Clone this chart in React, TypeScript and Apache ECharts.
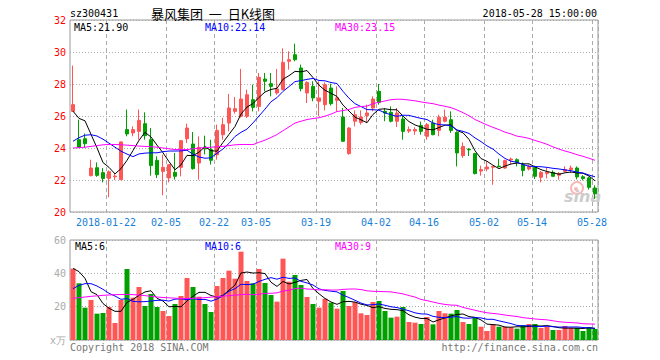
import React, { useEffect, useRef } from 'react';
import * as echarts from 'echarts';

const dates = [
  '2018-01-12', '2018-01-15', '2018-01-16', '2018-01-17', '2018-01-18', '2018-01-19', '2018-01-22', '2018-01-23', '2018-01-24', '2018-01-25',
  '2018-01-26', '2018-01-29', '2018-01-30', '2018-01-31', '2018-02-01', '2018-02-02', '2018-02-05', '2018-02-06', '2018-02-07', '2018-02-08',
  '2018-02-09', '2018-02-12', '2018-02-13', '2018-02-14', '2018-02-22', '2018-02-23', '2018-02-26', '2018-02-27', '2018-02-28', '2018-03-01',
  '2018-03-02', '2018-03-05', '2018-03-06', '2018-03-07', '2018-03-08', '2018-03-09', '2018-03-12', '2018-03-13', '2018-03-14', '2018-03-15',
  '2018-03-16', '2018-03-19', '2018-03-20', '2018-03-21', '2018-03-22', '2018-03-23', '2018-03-26', '2018-03-27', '2018-03-28', '2018-03-29',
  '2018-03-30', '2018-04-02', '2018-04-03', '2018-04-04', '2018-04-09', '2018-04-10', '2018-04-11', '2018-04-12', '2018-04-13', '2018-04-16',
  '2018-04-17', '2018-04-18', '2018-04-19', '2018-04-20', '2018-04-23', '2018-04-24', '2018-04-25', '2018-04-26', '2018-04-27', '2018-05-02',
  '2018-05-03', '2018-05-04', '2018-05-07', '2018-05-08', '2018-05-09', '2018-05-10', '2018-05-11', '2018-05-14', '2018-05-15', '2018-05-16',
  '2018-05-17', '2018-05-18', '2018-05-21', '2018-05-22', '2018-05-23', '2018-05-24', '2018-05-25', '2018-05-28',
];

const labelDates = ['2018-01-22', '2018-02-05', '2018-02-22', '2018-03-05', '2018-03-19', '2018-04-02', '2018-04-16', '2018-05-02', '2018-05-14', '2018-05-28'];

const opens = [
  26.29, 24.52, 24.58, 22.27, 22.77, 22.46, 22.10, 22.20, 22.02, 25.15,
  24.94, 25.04, 25.52, 24.52, 23.23, 22.54, 22.13, 22.48, 22.79, 24.58,
  24.25, 23.06, 24.06, 23.90, 23.58, 24.83, 25.56, 26.29, 25.98, 25.98,
  27.02, 26.60, 28.31, 28.02, 27.44, 27.65, 29.42, 29.83, 29.00, 27.44,
  27.85, 26.92, 26.71, 27.75, 26.98, 25.94, 23.65, 25.67, 25.60, 26.02,
  26.50, 27.54, 26.29, 26.23, 25.67, 25.81, 25.06, 25.06, 25.40, 24.73,
  25.56, 25.10, 25.67, 25.77, 24.98, 23.52, 23.92, 23.65, 22.56, 22.69,
  22.80, 22.87, 22.75, 23.25, 23.27, 22.96, 22.69, 22.79, 22.17, 22.40,
  22.48, 22.30, 22.54, 22.65, 22.75, 22.20, 22.13, 21.50,
];
const closes = [
  26.71, 24.04, 24.27, 22.75, 22.29, 22.10, 22.52, 22.25, 24.38, 24.88,
  25.15, 25.73, 24.77, 22.90, 22.33, 22.79, 22.96, 22.23, 24.46, 25.25,
  22.71, 24.04, 23.94, 23.23, 25.10, 25.46, 26.50, 26.46, 27.06, 27.33,
  26.54, 28.42, 28.17, 27.85, 27.69, 29.35, 29.52, 29.52, 27.71, 28.10,
  27.13, 27.13, 27.96, 26.77, 27.13, 24.42, 25.25, 26.08, 25.94, 26.19,
  27.06, 26.85, 26.19, 25.67, 26.19, 25.04, 25.15, 25.15, 25.04, 25.46,
  24.83, 25.92, 25.92, 25.10, 23.69, 24.10, 23.88, 22.40, 22.65, 22.81,
  22.85, 22.83, 23.21, 23.31, 23.10, 22.60, 22.85, 22.23, 22.48, 22.48,
  22.23, 22.40, 22.65, 22.75, 22.19, 22.10, 21.54, 21.15,
];
const lows = [
  26.25, 24.00, 24.00, 22.23, 22.20, 21.85, 20.92, 22.00, 22.00, 24.73,
  24.73, 24.52, 24.52, 22.27, 22.12, 21.04, 21.85, 22.02, 22.23, 24.31,
  22.65, 22.02, 23.60, 22.96, 23.27, 24.52, 25.04, 26.15, 25.90, 25.88,
  26.29, 26.29, 27.54, 27.23, 27.33, 27.60, 28.90, 29.42, 27.54, 26.81,
  26.92, 25.98, 26.35, 26.65, 26.29, 24.40, 23.58, 25.35, 25.46, 25.56,
  26.29, 26.71, 25.67, 25.60, 25.31, 24.52, 24.94, 24.83, 24.83, 24.52,
  24.80, 24.73, 25.60, 24.94, 22.85, 23.38, 23.50, 22.35, 22.27, 22.54,
  21.70, 22.80, 22.70, 22.98, 22.85, 22.23, 22.60, 22.06, 21.85, 22.10,
  22.20, 22.02, 22.48, 22.44, 22.04, 21.98, 21.40, 20.81,
];
const highs = [
  29.15, 25.77, 24.90, 23.27, 23.10, 22.75, 22.60, 22.45, 24.40, 26.40,
  25.35, 26.40, 26.23, 25.25, 23.48, 23.58, 22.96, 23.69, 24.46, 25.52,
  25.00, 24.73, 24.77, 24.52, 25.46, 25.88, 27.38, 27.19, 28.94, 27.65,
  27.96, 28.69, 28.69, 28.69, 28.94, 30.23, 30.04, 30.52, 29.21, 28.17,
  28.17, 28.17, 28.10, 28.02, 27.85, 26.50, 25.30, 26.35, 26.35, 26.71,
  27.23, 28.00, 26.50, 26.60, 26.50, 26.00, 25.35, 25.30, 25.65, 25.56,
  25.77, 26.08, 26.40, 26.29, 25.04, 24.35, 24.00, 23.70, 22.90, 23.17,
  22.87, 23.33, 23.27, 23.40, 23.35, 23.10, 22.96, 22.90, 22.56, 22.75,
  22.60, 22.50, 22.85, 22.90, 22.85, 22.30, 22.20, 21.67,
];

const ma5 = [
  26.3, 25.85, 25.7, 24.85, 24.01, 23.09, 22.79, 22.38, 22.71, 23.23,
  23.84, 24.48, 24.98, 24.69, 24.18, 23.70, 23.15, 22.64, 22.95, 23.54,
  23.52, 23.74, 24.08, 23.83, 23.80, 24.35, 24.85, 25.35, 26.12, 26.56,
  26.78, 27.16, 27.50, 27.66, 27.73, 28.30, 28.52, 28.79, 28.76, 28.84,
  28.40, 27.92, 27.61, 27.42, 27.22, 26.68, 26.31, 25.93, 25.76, 25.58,
  26.10, 26.42, 26.45, 26.39, 26.39, 25.99, 25.65, 25.44, 25.31, 25.17,
  25.13, 25.28, 25.43, 25.45, 25.09, 24.95, 24.54, 23.83, 23.34, 23.17,
  22.92, 22.71, 22.87, 23.00, 23.06, 23.01, 23.01, 22.82, 22.65, 22.53,
  22.45, 22.36, 22.45, 22.50, 22.44, 22.42, 22.25, 21.95,
];
const ma10 = [
  24.42, 24.65, 24.8, 24.83, 24.75, 24.55, 24.3, 24.05, 23.8, 23.62,
  23.46, 23.63, 23.68, 23.70, 23.70, 23.77, 23.81, 23.81, 23.82, 23.86,
  23.61, 23.44, 23.36, 23.39, 23.67, 23.94, 24.29, 24.72, 24.98, 25.18,
  25.57, 26.00, 26.43, 26.89, 27.15, 27.54, 27.84, 28.15, 28.21, 28.29,
  28.35, 28.22, 28.20, 28.09, 28.03, 27.54, 27.11, 26.77, 26.59, 26.40,
  26.39, 26.37, 26.19, 26.08, 25.98, 26.05, 26.04, 25.94, 25.85, 25.78,
  25.56, 25.46, 25.44, 25.38, 25.13, 25.04, 24.91, 24.63, 24.40, 24.13,
  23.93, 23.62, 23.35, 23.17, 23.11, 22.96, 22.86, 22.84, 22.83, 22.79,
  22.73, 22.69, 22.63, 22.58, 22.49, 22.44, 22.31, 22.20,
];
const ma30 = [
  24.0, 24.02, 24.05, 24.1, 24.15, 24.2, 24.22, 24.22, 24.2, 24.18,
  24.15, 24.12, 24.1, 24.08, 24.05, 24.0, 23.95, 23.9, 23.9, 23.9,
  23.95, 24.0, 24.02, 24.05, 24.08, 24.1, 24.15, 24.2, 24.22, 24.22,
  24.21, 24.36, 24.49, 24.66, 24.84, 25.08, 25.32, 25.56, 25.67, 25.78,
  25.84, 25.89, 25.99, 26.12, 26.28, 26.34, 26.41, 26.54, 26.59, 26.62,
  26.77, 26.86, 26.94, 27.02, 27.05, 27.04, 27.00, 26.95, 26.88, 26.82,
  26.77, 26.68, 26.61, 26.52, 26.38, 26.21, 26.02, 25.78, 25.61, 25.44,
  25.29, 25.15, 24.99, 24.88, 24.74, 24.68, 24.60, 24.47, 24.36, 24.23,
  24.07, 23.93, 23.81, 23.71, 23.58, 23.48, 23.36, 23.23,
];

const volumes = [
  42.8, 34, 19.4, 24, 15.8, 16.2, 19.8, 10.2, 24, 42.6,
  25.4, 31.8, 20.4, 27.6, 19.8, 17.4, 14.4, 21.6, 26.4, 37.2,
  31.8, 26, 21.6, 16.8, 32.4, 37.2, 41.6, 36.8, 53, 35.4,
  34, 42.6, 34.2, 27, 23, 48.8, 35, 39, 33, 25.8,
  21.6, 19.4, 24.8, 22.4, 18.8, 29.4, 20.4, 22.8, 16, 15,
  22.8, 23.4, 17.4, 13.4, 14, 19.8, 10.8, 10.4, 9.6, 13.8,
  9.4, 17.4, 16, 15.8, 18, 10.8, 9.6, 13.8, 8, 5.4,
  9.4, 8, 8, 7.6, 6.8, 8.8, 9.6, 9.6, 7.2, 8,
  6, 6, 8.4, 7.4, 7.4, 5.4, 7.8, 6.6,
];
const volMa5 = [
  43, 41, 37, 29, 27.2, 21.88, 19.04, 17.2, 17.2, 22.56,
  24.4, 26.8, 28.84, 29.56, 25.0, 23.4, 19.92, 20.16, 19.92, 23.4,
  26.28, 28.6, 28.6, 26.68, 25.72, 26.8, 29.92, 32.96, 40.2, 40.8,
  40.16, 40.36, 39.84, 34.64, 32.16, 35.12, 33.6, 34.56, 35.76, 36.32,
  30.88, 27.76, 24.92, 22.8, 21.4, 22.96, 23.16, 22.76, 21.48, 20.72,
  19.4, 20.0, 18.92, 18.4, 18.2, 17.6, 15.08, 13.68, 12.92, 12.88,
  10.8, 12.12, 13.24, 14.48, 15.32, 15.6, 14.04, 13.6, 12.04, 9.52,
  9.24, 8.92, 7.76, 7.68, 7.96, 7.84, 8.16, 8.48, 8.4, 8.64,
  8.08, 7.36, 7.12, 7.16, 7.04, 6.92, 7.28, 6.92,
];
const volMa10 = [
  30.8, 32.8, 33.8, 33.8, 32.4, 30.4, 28, 26.4, 24.4, 24.88,
  23.14, 22.92, 23.02, 23.38, 23.78, 23.9, 23.36, 24.5, 24.74, 24.2,
  24.84, 24.26, 24.38, 23.3, 24.56, 26.54, 29.26, 30.78, 33.44, 33.26,
  33.48, 35.14, 36.4, 37.42, 36.48, 37.64, 36.98, 37.2, 35.2, 34.24,
  33.0, 30.68, 29.74, 29.28, 28.86, 26.92, 25.46, 23.84, 22.14, 21.06,
  21.18, 21.58, 20.84, 19.94, 19.46, 18.5, 17.54, 16.3, 15.66, 15.54,
  14.2, 13.6, 13.46, 13.7, 14.1, 13.2, 13.08, 13.42, 13.26, 12.42,
  12.42, 11.48, 10.68, 9.86, 8.74, 8.54, 8.54, 8.12, 8.04, 8.3,
  7.96, 7.76, 7.8, 7.78, 7.84, 7.5, 7.32, 7.02,
];
const volMa30 = [
  25, 25.4, 25.8, 26.2, 26.5, 26.8, 27, 27.2, 27.3, 27.3,
  27.2, 27, 26.6, 26.2, 25.8, 25.5, 25.3, 25.1, 24.9, 24.9,
  25, 25.2, 25.4, 25.7, 26, 26.3, 26.6, 26.9, 27.2, 27.45,
  27.15, 27.44, 27.93, 28.03, 28.27, 29.36, 29.87, 30.83, 31.13, 30.57,
  30.44, 30.03, 30.17, 30.0, 29.97, 30.37, 30.57, 30.61, 30.26, 29.52,
  29.22, 29.13, 28.99, 28.88, 28.27, 27.69, 26.66, 25.78, 24.33, 23.61,
  22.79, 21.95, 21.35, 20.97, 20.81, 19.54, 18.69, 17.85, 17.02, 16.34,
  15.93, 15.55, 14.99, 14.5, 14.1, 13.41, 13.05, 12.61, 12.32, 12.09,
  11.53, 10.95, 10.65, 10.45, 10.23, 9.75, 9.65, 9.52,
];

const UP = '#ff5555';
const DOWN = '#00a000';
const MONO = "'DejaVu Sans Mono', monospace";

export default function App() {
  const ref = useRef<HTMLDivElement>(null);

  useEffect(() => {
    if (!ref.current) return;
    const chart = echarts.init(ref.current, null, { renderer: 'svg' });
    const isLabel = (i: number) => labelDates.indexOf(dates[i]) >= 0;
    const vSplit = {
      show: true,
      interval: (i: number) => isLabel(i),
      lineStyle: { color: '#aaaaaa', type: [4, 3] as any, width: 1 },
    };
    const hSplit = { show: true, lineStyle: { color: '#aaaaaa', type: [1, 2] as any, width: 1 } };
    const lineS = (name: string, data: number[], color: string, xi: number) => ({
      name,
      type: 'line',
      xAxisIndex: xi,
      yAxisIndex: xi,
      data,
      symbol: 'none',
      silent: true,
      lineStyle: { color, width: 1 },
      itemStyle: { color },
      z: 3,
    });
    const txt = (text: string, x: number, y: number, fill: string, font: string, align = 'left') => ({
      type: 'text',
      x,
      y,
      silent: true,
      style: { text, fill, font, align, verticalAlign: 'middle', textAlign: align, textVerticalAlign: 'middle' },
      z: 10,
    });

    chart.setOption({
      animation: false,
      backgroundColor: '#ffffff',
      grid: [
        { left: 70, top: 20, width: 528, height: 192, show: true, borderColor: '#999999', borderWidth: 1, backgroundColor: 'transparent' },
        { left: 70, top: 240, width: 528, height: 100, show: true, borderColor: '#999999', borderWidth: 1, backgroundColor: 'transparent' },
      ],
      xAxis: [
        {
          type: 'category',
          gridIndex: 0,
          data: dates,
          boundaryGap: true,
          axisLine: { show: false },
          axisTick: { show: false },
          axisLabel: {
            interval: (i: number) => isLabel(i),
            formatter: (v: string) => (v === labelDates[0] ? v : v.slice(5)),
            color: '#1a7fd6',
            fontFamily: MONO,
            fontSize: 10,
            margin: 5,
            padding: [0, 6, 0, 0],
          },
          splitLine: vSplit,
        },
        {
          type: 'category',
          gridIndex: 1,
          data: dates,
          boundaryGap: true,
          axisLine: { show: false },
          axisTick: { show: false },
          axisLabel: { show: false },
          splitLine: vSplit,
        },
      ],
      yAxis: [
        {
          type: 'value',
          gridIndex: 0,
          min: 20,
          max: 32,
          interval: 2,
          axisLine: { show: false },
          axisTick: { show: false },
          axisLabel: { color: '#ff0000', fontFamily: MONO, fontSize: 10, margin: 4 },
          splitLine: hSplit,
        },
        {
          type: 'value',
          gridIndex: 1,
          min: 0,
          max: 60,
          interval: 20,
          axisLine: { show: false },
          axisTick: { show: false },
          axisLabel: {
            color: '#aaaaaa',
            fontFamily: MONO,
            fontSize: 10,
            margin: 4,
            formatter: (v: number) => (v === 0 ? 'x万' : String(v)),
          },
          splitLine: hSplit,
        },
      ],
      series: [
        {
          name: 'K',
          type: 'candlestick',
          xAxisIndex: 0,
          yAxisIndex: 0,
          barWidth: 4,
          data: dates.map((_, i) => [opens[i], closes[i], lows[i], highs[i]]),
          itemStyle: { color: UP, color0: DOWN, borderColor: UP, borderColor0: DOWN, borderWidth: 1 },
          z: 2,
        },
        lineS('MA5', ma5, '#000000', 0),
        lineS('MA10', ma10, '#0000ff', 0),
        lineS('MA30', ma30, '#ff00ff', 0),
        {
          name: 'VOL',
          type: 'bar',
          xAxisIndex: 1,
          yAxisIndex: 1,
          barWidth: 5,
          data: volumes.map((v, i) => ({ value: v, itemStyle: { color: closes[i] >= opens[i] ? UP : DOWN } })),
          z: 2,
        },
        lineS('VMA5', volMa5, '#000000', 1),
        lineS('VMA10', volMa10, '#0000ff', 1),
        lineS('VMA30', volMa30, '#ff00ff', 1),
      ],
      graphic: [
        txt('sz300431', 70, 13, '#000000', `10px ${MONO}`),
        txt('暴风集团\u00a0\u00a0一\u00a0\u00a0日K线图', 151, 13, '#000000', "13px 'Noto Sans CJK SC'"),
        txt('2018-05-28 15:00:00', 597, 13, '#000000', `10px ${MONO}`, 'right'),
        txt('MA5:21.90', 74, 27, '#000000', `10px ${MONO}`),
        txt('MA10:22.14', 205, 27, '#0000ff', `10px ${MONO}`),
        txt('MA30:23.15', 335, 27, '#ff00ff', `10px ${MONO}`),
        txt('MA5:6', 75, 246, '#000000', `10px ${MONO}`),
        txt('MA10:6', 205, 246, '#0000ff', `10px ${MONO}`),
        txt('MA30:9', 335, 246, '#ff00ff', `10px ${MONO}`),
        txt('Copyright 2018 SINA.COM', 70, 347, '#777777', `10px ${MONO}`),
        txt('http://finance.sina.com.cn', 598, 347, '#777777', `10px ${MONO}`, 'right'),
        {
          type: 'circle',
          shape: { cx: 577, cy: 188, r: 6 },
          silent: true,
          style: { fill: 'none', stroke: '#f6b8b8', lineWidth: 2 },
          z: 1,
        },
        {
          type: 'circle',
          shape: { cx: 576, cy: 189, r: 2 },
          silent: true,
          style: { fill: '#f6b8b8' },
          z: 1,
        },
        {
          type: 'text',
          x: 564,
          y: 204,
          silent: true,
          style: { text: 'sina', fill: '#cccccc', font: "italic bold 16px 'DejaVu Sans'", align: 'left', verticalAlign: 'bottom' },
          z: 1,
        },
      ],
    });
    return () => chart.dispose();
  }, []);

  return (
    <div
      ref={ref}
      style={{ position: 'fixed', left: 0, top: 0, width: 660, height: 360, background: '#ffffff' }}
    />
  );
}
